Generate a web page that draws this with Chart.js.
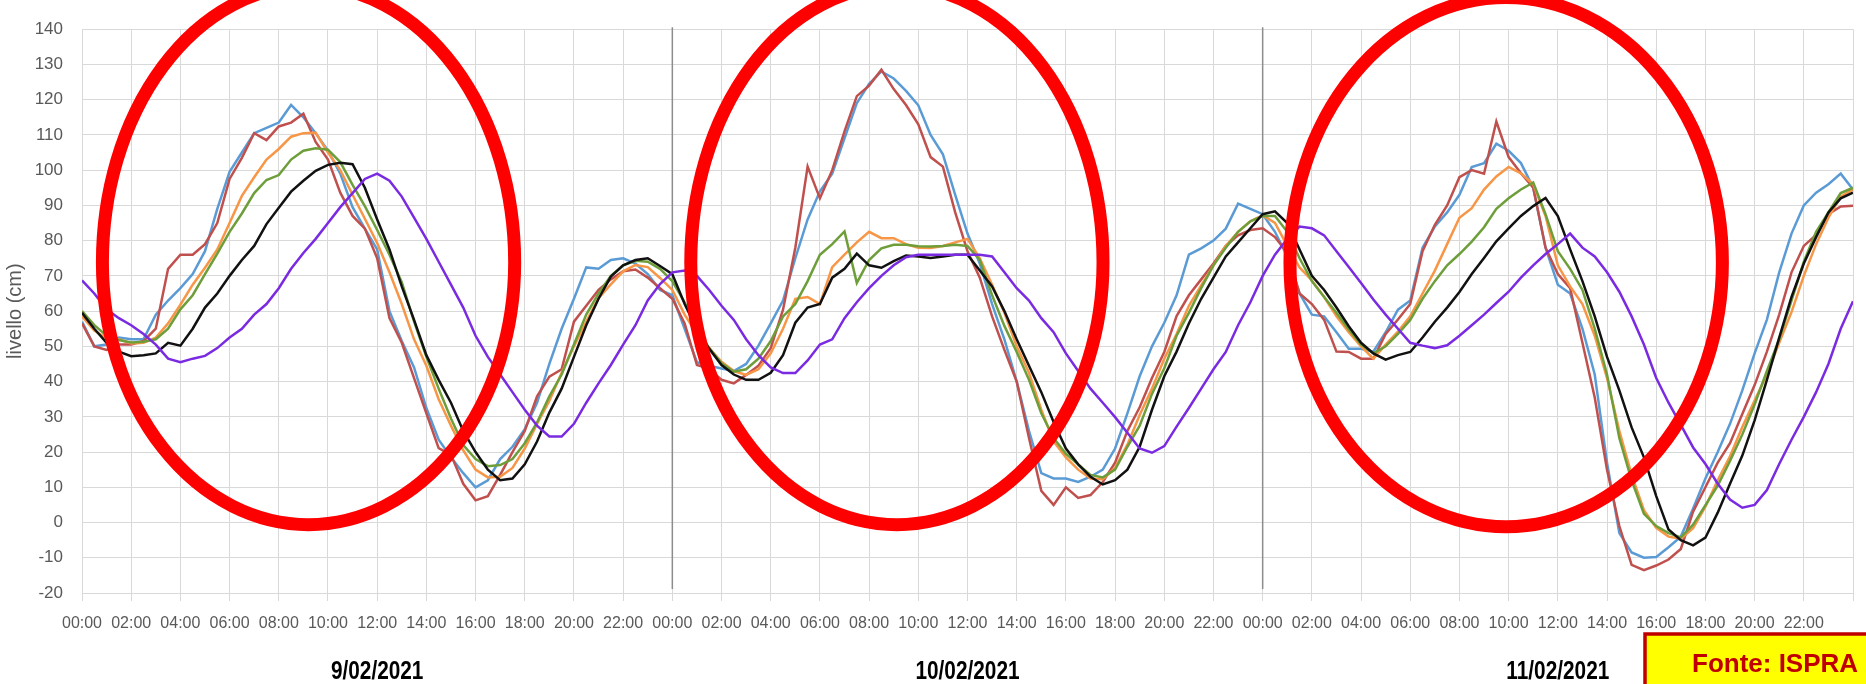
<!DOCTYPE html>
<html lang="it">
<head>
<meta charset="UTF-8">
<title>Livello di marea 9-11/02/2021</title>
<script src="https://cdn.jsdelivr.net/npm/chart.js"></script>
<style>
  html, body { margin: 0; padding: 0; background: #fff; }
  #box { position: relative; width: 1866px; height: 684px; }
</style>
</head>
<body>
<div id="box"><canvas id="grafico"></canvas></div>

<script>
// giorni e ore (asse x in ore dall'inizio del 9/02, un valore ogni 30 minuti)
var giorni = ['9/02/2021', '10/02/2021', '11/02/2021'];
var etichetteOre = ['00:00', '02:00', '04:00', '06:00', '08:00', '10:00',
                    '12:00', '14:00', '16:00', '18:00', '20:00', '22:00'];
var ore = [];
for (var i = 0; i <= 144; i++) ore.push(i / 2);

// livelli in cm (una riga = 6 ore)
var serieBlu = [
  57, 50, 50.5, 52.5, 52, 52, 59, 63, 66.5, 70.5, 77, 89,
  99.5, 105, 110.5, 112, 113.5, 118.5, 115, 110.5, 105.5, 99, 89.5, 83.4,
  77.5, 60, 51.5, 44, 32.5, 23.5, 18.5, 14, 10, 12, 18, 21.5,
  26.5, 34, 45, 55, 63.5, 72.4, 72, 74.5, 75, 73.5, 70.5, 66,
  64.5, 55, 45.5, 44.5, 43.7, 43, 45, 50.2, 56.5, 63, 75, 86,
  94, 99, 109, 119, 124.5, 128, 126, 122.5, 118.4, 110, 104.5, 93,
  82, 73.5, 62, 52, 40, 26, 14, 12.5, 12.5, 11.5, 13, 15,
  21, 31, 41.5, 50, 56.7, 64.5, 76, 77.8, 80, 83.4, 90.5, 89,
  87.5, 82.5, 75.5, 65, 59, 58.5, 54, 49.3, 49.3, 48.5, 54, 60.4,
  63, 78, 84, 88, 93, 100.9, 102, 107.5, 105.5, 102, 95, 78,
  67.5, 65, 55, 42, 17, -3, -8.5, -10, -9.8, -7, -4, 4,
  12.5, 20, 28, 37.5, 48, 57.6, 71, 82, 90, 93.6, 96, 99,
  94.5
];
var serieRossa = [
  56.5, 50, 49, 50.5, 50.5, 51.5, 55, 72, 76, 76, 79, 85,
  97.5, 103.5, 110.5, 108.5, 112.4, 113.5, 116, 108, 103, 93.6, 87, 83.4,
  75, 58, 51, 41, 31, 21.1, 19.2, 11, 6.3, 7.5, 13.5, 20,
  26, 35.8, 41.4, 43.5, 57, 61.5, 66, 69, 71.3, 71.8, 69.5, 66.5,
  63.5, 56.5, 44.7, 43.7, 40.5, 39.5, 41.9, 44.5, 49.5, 60.4, 78, 101,
  92, 100, 111, 121, 124, 128.5, 123, 118.5, 113, 103.7, 101, 88,
  77, 69.5, 58.5, 49, 40, 24, 9, 5, 10, 7, 7.8, 11.5,
  17, 26, 32.7, 41, 48.4, 58.6, 64.5, 69, 73.5, 78.5, 81.5, 83,
  83.5, 81, 76.5, 65, 62, 57.5, 48.5, 48.4, 46.5, 46.5, 53.5, 57.6,
  62, 77, 84.5, 90, 98, 100, 99, 113.8, 103.7, 99.1, 95, 78,
  70.5, 66.5, 51, 35.5, 15, -1, -12, -13.5, -12.2, -10.5, -7.5, 3.1,
  10, 17, 22.5, 30.8, 39, 48.5, 59, 71, 78.5, 81.6, 87.5, 89.7,
  89.9
];
var serieArancio = [
  58.5, 54.5, 52.3, 52, 50.8, 51, 52.5, 56.5, 61.8, 67.5, 72.3, 77.5,
  85, 92.7, 98, 103, 106, 109.5, 110.5, 110.6, 105, 100, 93, 86.2,
  79.3, 71, 62, 52, 44.5, 35, 27.5, 20.5, 15, 12.8, 13, 15.5,
  21, 28, 34.5, 42.5, 50, 57, 63.7, 67.6, 71.3, 73.1, 72.5, 69.4,
  66, 59, 53.5, 49.5, 45.6, 43, 41.9, 43.5, 48, 55, 63.5, 64,
  62, 72.5, 76, 79.5, 82.5, 80.7, 80.7, 79, 78, 77.9, 78.5, 79.5,
  80.5, 75, 67.5, 59.5, 50, 42.5, 32, 23, 18.5, 15, 12.5, 12.3,
  15.5, 22.1, 30.5, 38, 46.5, 53.5, 61.5, 67.3, 73, 78.5, 82.5, 85.5,
  87.2, 85, 78.5, 72.4, 68.7, 64, 58.5, 54, 50, 46.5, 50.5, 54.2,
  58.5, 65, 71.5, 79, 86.5, 89.2, 94.5, 98.2, 100.9, 99.1, 96, 87,
  73, 67, 62, 53, 41, 26, 13.5, 3.5, -1.5, -4, -4.6, -1.6,
  4.5, 12, 18.8, 27.1, 34.6, 42, 51, 59.7, 70, 79, 86.5, 92.5,
  94.5
];
var serieVerde = [
  60, 56, 53, 51.8, 51.1, 51.3, 52, 55, 60.5, 64.5, 70.5, 76.3,
  82.5, 87.7, 93.5, 97.2, 98.6, 103, 105.5, 106.2, 105.8, 102.3, 95.8, 89.8,
  83, 76, 68.2, 57, 47, 38, 29.5, 22, 18, 16, 16.3, 18,
  22.5, 28.4, 35.8, 42, 50.5, 59, 65, 70, 73, 74.3, 74, 72,
  68.5, 62.5, 55, 49.5, 45.2, 42.8, 43.5, 46.5, 51.5, 58.5, 62, 68.5,
  76, 79, 82.6, 68, 74.5, 77.8, 78.8, 78.8, 78.4, 78.3, 78.5, 78.8,
  78.5, 74.5, 64.5, 55.8, 48.4, 40.5, 31, 24, 19.5, 16.5, 13.5, 12.8,
  15, 21.5, 27.5, 36.5, 43.8, 53, 59.5, 66.5, 73, 78, 82.5, 85.5,
  87, 87, 82.5, 75, 68.5, 64, 59.5, 54.8, 50.5, 48, 50, 53.5,
  57.5, 63.5, 68.5, 73, 76.2, 79.7, 83.8, 89, 92, 94.5, 96.5, 87.5,
  77, 72, 66, 55, 42, 24, 12, 2.5, -1, -3, -4.2, -0.6,
  4.9, 10.5, 17.5, 25, 33.5, 43, 52, 63, 74, 82.5, 88, 93.5,
  95
];
var serieNera = [
  59.5, 55, 51, 48.5, 47.2, 47.5, 48, 51, 50.2, 55, 61, 65,
  70, 74.5, 78.5, 84.7, 89.3, 93.9, 97, 99.8, 101.5, 102.1, 101.7, 95,
  86, 77.5, 67, 57.5, 47.5, 40.5, 34, 26, 20, 15, 12, 12.5,
  16.5, 23, 31.2, 38, 47, 56, 63.5, 69.8, 73, 74.5, 75, 72.8,
  70.5, 62, 54.8, 49.3, 44.7, 42, 40.5, 40.5, 42.5, 47.5, 56.7, 61,
  62, 69.5, 72, 76.3, 73, 72.3, 74.2, 75.8, 75.5, 75.1, 75.5, 76,
  76, 71.5, 67, 60, 52, 44.5, 37, 28.5, 21, 16.5, 13, 10.8,
  12, 15, 21.5, 32, 41.5, 48.5, 56.5, 63.5, 69.5, 75.5, 79.5, 83.5,
  87.5, 88.3, 85, 77.5, 70, 66, 61, 55.7, 51, 48, 46.2, 47.5,
  48.4, 52.5, 57, 61, 65.4, 70.5, 75.1, 79.8, 83.5, 87, 89.8, 92.1,
  87, 77.5, 68.5, 58.5, 47, 37.5, 27, 18.5, 7.5, -2, -5, -6.5,
  -4.3, 2.8, 11, 19, 29, 40.5, 52.5, 64, 73.5, 81, 88, 92,
  93.6
];
var serieViola = [
  68.7, 65, 60.5, 58, 56, 53.5, 50.5, 46.5, 45.5, 46.5, 47.3, 49.5,
  52.5, 55, 59, 62, 66.5, 72, 76.5, 80.5, 85, 89.5, 93.5, 97.5,
  99, 97, 92.5, 86.5, 80.5, 74, 67.5, 61, 53, 47, 42, 37,
  32, 27.5, 24.4, 24.4, 28, 34, 39.5, 44.7, 50.5, 56, 63, 67.7,
  71, 71.5, 70, 66, 61.5, 57.5, 52, 47.5, 44, 42.4, 42.4, 46,
  50.5, 52, 58, 62.5, 66.5, 70, 73, 75.3, 76, 76, 76, 76,
  76, 76, 75.5, 71, 66.5, 63, 58, 54, 48, 43, 38, 34,
  29.9, 25.5, 21, 19.8, 21.7, 27.2, 32.5, 38, 43.5, 48.4, 56, 62.5,
  70, 76, 80.5, 84, 83.5, 81.5, 77, 72.5, 68, 63.3, 59, 55,
  51, 50.2, 49.5, 50.3, 53, 56, 59, 62.3, 65.5, 69.5, 73, 76.2,
  79, 82, 78, 75.5, 71, 65.5, 58.5, 50.5, 41, 34, 27.7, 21.3,
  16.6, 11, 6.5, 4.2, 5, 9.2, 16.6, 23.5, 30, 37, 45, 55,
  62.8
];

// ellissi rosse di evidenziazione: centro (ore, cm), semiasse x (ore), semiassi y sopra/sotto (cm)
var cerchi = [
  [9.21, 73.8, 8.38, 78.6, 74.4],
  [33.13, 73.8, 8.38, 78.6, 74.4],
  [57.9, 73.8, 8.79, 75.2, 75.0]
];

function punti(valori) {
  return valori.map(function (v, i) { return { x: ore[i], y: v }; });
}

function serie(nome, valori, colore) {
  return {
    label: nome,
    data: punti(valori),
    borderColor: colore,
    backgroundColor: colore,
    borderWidth: 2.5,
    pointRadius: 0,
    tension: 0,
    fill: false
  };
}

var sovrapposizioni = {
  id: 'sovrapposizioni',
  beforeDatasetsDraw: function (chart) {
    // linee grigie di separazione tra i giorni
    var ctx = chart.ctx, sx = chart.scales.x, area = chart.chartArea;
    ctx.save();
    ctx.strokeStyle = '#8c8c8c';
    ctx.lineWidth = 1.5;
    for (var d = 1; d < giorni.length; d++) {
      var px = sx.getPixelForValue(d * 24);
      ctx.beginPath();
      ctx.moveTo(px, area.top - 2);
      ctx.lineTo(px, area.bottom - 4);
      ctx.stroke();
    }
    ctx.restore();
  },
  afterDatasetsDraw: function (chart) {
    var ctx = chart.ctx, sx = chart.scales.x, sy = chart.scales.y;
    ctx.save();
    ctx.strokeStyle = '#ff0000';
    ctx.lineWidth = 13;
    cerchi.forEach(function (c) {
      var cx = sx.getPixelForValue(c[0]);
      var cy = sy.getPixelForValue(c[1]);
      var rx = sx.getPixelForValue(c[0] + c[2]) - cx;
      var rTop = cy - sy.getPixelForValue(c[1] + c[3]);
      var rBot = sy.getPixelForValue(c[1] - c[4]) - cy;
      ctx.beginPath();
      ctx.ellipse(cx, cy, rx, rBot, 0, 0, Math.PI);
      ctx.ellipse(cx, cy, rx, rTop, 0, Math.PI, 2 * Math.PI);
      ctx.closePath();
      ctx.stroke();
    });
    ctx.restore();
  },
  afterDraw: function (chart) {
    var ctx = chart.ctx, sx = chart.scales.x;
    // date sotto l'asse
    ctx.save();
    ctx.fillStyle = '#000';
    ctx.font = "bold 26px 'Liberation Sans', Arial, sans-serif";
    ctx.textAlign = 'center';
    ctx.textBaseline = 'alphabetic';
    giorni.forEach(function (g, i) {
      ctx.save();
      ctx.translate(sx.getPixelForValue(i * 24 + 12), 679);
      ctx.scale(0.8, 1);
      ctx.fillText(g, 0, 0);
      ctx.restore();
    });
    ctx.restore();

    // riquadro della fonte
    ctx.save();
    ctx.fillStyle = '#ffff00';
    ctx.strokeStyle = '#c00000';
    ctx.lineWidth = 3.5;
    ctx.fillRect(1645, 634, 240, 60);
    ctx.strokeRect(1645, 634, 240, 60);
    ctx.fillStyle = '#c00000';
    ctx.font = "bold 26px 'Liberation Sans', Arial, sans-serif";
    ctx.textAlign = 'left';
    ctx.fillText('Fonte: ISPRA', 1692, 672);
    ctx.restore();
  }
};

var famiglia = "'Liberation Sans', Arial, sans-serif";

var config = {
  type: 'line',
  data: {
    datasets: [
      serie('viola', serieViola, '#7a2be2'),
      serie('nero', serieNera, '#111111'),
      serie('verde', serieVerde, '#6e9e3a'),
      serie('arancio', serieArancio, '#f79646'),
      serie('rosso', serieRossa, '#c0504d'),
      serie('blu', serieBlu, '#5b9bd5')
    ]
  },
  options: {
    responsive: true,
    maintainAspectRatio: false,
    animation: false,
    devicePixelRatio: 1,
    layout: { padding: { top: 16, right: 2, bottom: 0, left: 0 } },
    plugins: {
      legend: { display: false },
      tooltip: { enabled: false }
    },
    scales: {
      x: {
        type: 'linear',
        min: 0,
        max: 72,
        border: { display: false },
        grid: { color: '#d9d9d9', lineWidth: 1, drawTicks: true, tickLength: 8, tickColor: '#d9d9d9' },
        ticks: {
          stepSize: 2,
          autoSkip: false,
          maxRotation: 0,
          minRotation: 0,
          padding: 13,
          color: '#595959',
          font: { family: famiglia, size: 16 },
          callback: function (v) {
            if (v >= 72) return '';
            return etichetteOre[(v % 24) / 2];
          }
        },
        afterFit: function (s) { s.height = 91; }
      },
      y: {
        min: -20,
        max: 140,
        border: { display: false },
        grid: { color: '#d9d9d9', lineWidth: 1, drawTicks: false },
        ticks: { stepSize: 10, padding: 19, color: '#595959', font: { family: famiglia, size: 17 } },
        title: {
          display: true,
          text: 'livello (cm)',
          color: '#595959',
          padding: { top: 3, bottom: 0 },
          font: { family: famiglia, size: 20 }
        },
        afterFit: function (s) { s.width = 82; }
      }
    }
  },
  plugins: [sovrapposizioni]
};

var grafico = new Chart(document.getElementById('grafico').getContext('2d'), config);
</script>
</body>
</html>
